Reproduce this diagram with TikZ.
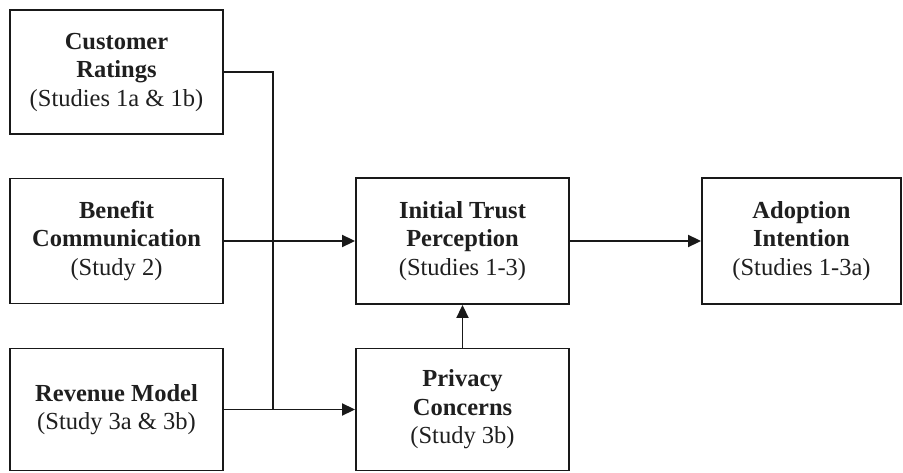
\documentclass[tikz,border=0pt]{standalone}
\usepackage{fontspec}
\setmainfont{Liberation Serif}
\usetikzlibrary{arrows.meta}
\begin{document}
\begin{tikzpicture}[x=1pt,y=1pt,
  box/.style={draw=black!90, line width=1.9pt, align=center, inner sep=0pt,
    font=\fontsize{24.5}{28.5}\selectfont, text=black!88},
  conn/.style={draw=black!90, line width=1.9pt},
  arr/.style={conn, -{Triangle[length=13pt,width=12pt]}}]
\useasboundingbox (0,0) rectangle (903,472);
\node[box, minimum width=213pt, minimum height=124pt] (cr) at (116.5,400)
  {\textbf{Customer}\\\textbf{Ratings}\\(Studies 1a \& 1b)};
\node[box, minimum width=213pt, minimum height=125pt] (bc) at (116.5,231)
  {\textbf{Benefit}\\\textbf{Communication}\\(Study 2)};
\node[box, minimum width=213pt, minimum height=122pt] (rm) at (116.5,62.5)
  {\textbf{Revenue Model}\\(Study 3a \& 3b)};
\node[box, minimum width=213pt, minimum height=126pt] (it) at (462.5,231)
  {\textbf{Initial Trust}\\\textbf{Perception}\\(Studies 1-3)};
\node[box, minimum width=213pt, minimum height=122pt] (pc) at (462.5,62.5)
  {\textbf{Privacy}\\\textbf{Concerns}\\(Study 3b)};
\node[box, minimum width=199pt, minimum height=126pt] (ai) at (801.5,231)
  {\textbf{Adoption}\\\textbf{Intention}\\(Studies 1-3a)};
\coordinate (j) at (273,62.5);
\draw[conn] (cr.east) -| (j);
\draw[arr] (bc.east) -- (it.west);
\draw[arr] (rm.east) -- (pc.west);
\draw[arr] (it.east) -- (ai.west);
\draw[arr] (pc.north) -- (it.south);
\end{tikzpicture}
\end{document}
